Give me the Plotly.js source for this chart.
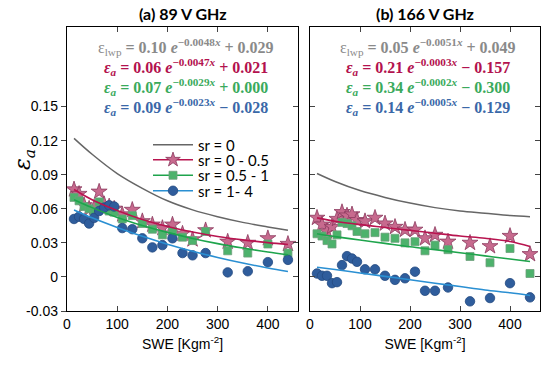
<!DOCTYPE html>
<html>
<head>
<meta charset="utf-8">
<script src="https://cdn.plot.ly/plotly-3.0.1.min.js"></script>
<style>html,body{margin:0;padding:0;background:#fff;}#chart{width:550px;height:365px;}</style>
</head>
<body>
<div id="chart"></div>
<script>
// SWE bin centres (Kg m^-2)
const swe = [14,24,34,44,54,64,74,84,94,110,130,150,170,190,210,230,250,276,320,360,400,440];

// (a) 89 V GHz observed emissivity
const a89_sr005 = [0.077,0.073,0.063,0.060,0.061,0.075,0.064,0.062,0.060,0.055,0.059,0.049,0.046,0.043,0.046,0.038,0.033,0.041,0.031,0.030,0.034,0.029];
const a89_sr051 = [0.070,0.067,0.062,0.060,0.058,0.066,0.062,0.058,0.057,0.051,0.054,0.047,0.042,0.037,0.040,0.035,0.032,0.040,0.023,0.021,0.029,0.021];
const a89_sr14  = [0.051,0.053,0.051,0.047,0.052,0.058,0.061,0.063,0.062,0.043,0.042,0.034,0.026,0.028,0.034,0.021,0.019,0.021,0.004,0.005,0.013,0.015];

// (b) 166 V GHz observed emissivity
const b166_sr005 = [0.052,0.046,0.040,0.044,0.051,0.057,0.054,0.055,0.050,0.049,0.052,0.047,0.044,0.0415,0.0415,0.034,0.037,0.031,0.030,0.027,0.036,0.020];
const b166_sr051 = [0.038,0.036,0.032,0.029,0.037,0.048,0.047,0.045,0.040,0.038,0.039,0.035,0.034,0.030,0.031,0.023,0.028,0.024,0.018,0.0125,0.025,0.003];
const b166_sr14  = [0.003,0.001,0.001,-0.0055,-0.0046,0.0104,0.0183,0.0162,0.0133,0.0067,0.0067,0.001,-0.0026,-0.0012,0.0046,-0.0122,-0.0122,-0.0093,-0.0215,-0.0186,-0.0055,-0.018];

// fitted curves
const fitX = [14,50,100,150,200,250,300,350,400,440];
const a89_fit_sr0   = [0.122,0.108,0.091,0.078,0.067,0.059,0.053,0.048,0.044,0.041];
const a89_fit_sr005 = [0.077,0.068,0.0585,0.0506,0.0444,0.0395,0.0356,0.0326,0.0302,0.0286];
const a89_fit_sr051 = [0.068,0.061,0.0524,0.0453,0.0392,0.0339,0.0293,0.0254,0.0219,0.0195];
const a89_fit_sr14  = [0.059,0.052,0.0435,0.0357,0.0288,0.0226,0.0171,0.0122,0.0079,0.0047];
const b166_fit_sr0   = [0.091,0.084,0.076,0.070,0.065,0.061,0.058,0.056,0.054,0.053];
const b166_fit_sr005 = [0.052,0.049,0.046,0.0435,0.041,0.0385,0.036,0.034,0.0312,0.0268];
const b166_fit_sr051 = [0.038,0.0355,0.0325,0.0295,0.0265,0.024,0.0213,0.0185,0.0158,0.0135];
const b166_fit_sr14  = [0.0085,0.0065,0.0035,0.0005,-0.0025,-0.0055,-0.0085,-0.0115,-0.014,-0.0163];

// legend labels and equation texts
const legendLabels = ["sr = 0","sr = 0 - 0.5","sr = 0.5 - 1","sr = 1- 4"];
const panelTitles = ["(a) 89 V GHz","(b) 166 V GHz"];
const eqA = [["0.10","−0.0048","+ 0.029"],["0.06","−0.0047","+ 0.021"],["0.07","−0.0029","+ 0.000"],["0.09","−0.0023","− 0.028"]];
const eqB = [["0.05","−0.0051","+ 0.049"],["0.21","−0.0003","− 0.157"],["0.34","−0.0002","− 0.300"],["0.14","−0.0005","− 0.129"]];
const yTickVals = [-0.03,0,0.03,0.06,0.09,0.12,0.15];
const yTickText = ["-0.03","0","0.03","0.06","0.09","0.12","0.15"];
const xTickVals = [0,100,200,300,400];

const C = {
  gray:'#666666', grayTxt:'#8a8a8a',
  red:'#b8144f', redFill:'#c76a8e', redEdge:'#8c3a5e', redTxt:'#b3124e',
  green:'#1ea44c', greenFill:'#4db26c', greenEdge:'#6f9f7c', greenTxt:'#3aaa5c',
  blue:'#2a8fd2', blueFill:'#2f5d9c', blueEdge:'#244a80', blueTxt:'#3a68a8'
};

function line(x,y,color,xa,ya,w){
  return {x:x,y:y,mode:'lines',line:{color:color,width:w||1.6,shape:'spline'},showlegend:false,xaxis:xa,yaxis:ya,hoverinfo:'skip'};
}
function pts(x,y,sym,size,fill,edge,xa,ya){
  return {x:x,y:y,mode:'markers',marker:{symbol:sym,size:size,color:fill,line:{color:edge,width:0.8}},showlegend:false,xaxis:xa,yaxis:ya};
}
function leg(name,legendId,color,sym,size,fill,edge){
  const t = {x:[null],y:[null],mode: sym?'lines+markers':'lines',name:name,legend:legendId,line:{color:color,width:1.6},xaxis:'x',yaxis:'y'};
  if(sym) t.marker={symbol:sym,size:size,color:fill,line:{color:edge,width:0.8}};
  return t;
}

const data = [
  line(fitX,a89_fit_sr0,C.gray,'x','y',1.5),
  pts(swe,a89_sr005,'star',12,C.redFill,C.redEdge,'x','y'),
  pts(swe,a89_sr051,'square',8,C.greenFill,C.greenEdge,'x','y'),
  pts(swe,a89_sr14,'circle',9.5,C.blueFill,C.blueEdge,'x','y'),
  line(fitX,a89_fit_sr005,C.red,'x','y'),
  line(fitX,a89_fit_sr051,C.green,'x','y'),
  line(fitX,a89_fit_sr14,C.blue,'x','y'),

  line(fitX,b166_fit_sr0,C.gray,'x2','y2',1.5),
  pts(swe,b166_sr005,'star',12,C.redFill,C.redEdge,'x2','y2'),
  pts(swe,b166_sr051,'square',8,C.greenFill,C.greenEdge,'x2','y2'),
  pts(swe,b166_sr14,'circle',9.5,C.blueFill,C.blueEdge,'x2','y2'),
  line(fitX,b166_fit_sr005,C.red,'x2','y2'),
  line(fitX,b166_fit_sr051,C.green,'x2','y2'),
  line(fitX,b166_fit_sr14,C.blue,'x2','y2'),

  leg(legendLabels[0],'legend',C.gray),
  leg(legendLabels[1],'legend2',C.red,'star',11,C.redFill,C.redEdge),
  leg(legendLabels[2],'legend3',C.green,'square',8,C.greenFill,C.greenEdge),
  leg(legendLabels[3],'legend4',C.blue,'circle',9.5,C.blueFill,C.blueEdge)
];

const tickFont = {family:'Liberation Sans, Arial, sans-serif',size:14,color:'#000'};
const xBase = {range:[0,460],tickvals:xTickVals,ticks:'inside',ticklen:5,mirror:'ticks',showline:true,linecolor:'#000',linewidth:1.2,
  showgrid:false,zeroline:false,tickfont:tickFont,
  title:{text:'SWE [Kgm<sup>-2</sup>]',font:{family:'Liberation Sans, Arial, sans-serif',size:14,color:'#000'},standoff:8}};
const yDomain = [54/365, 338/365];

function legendAt(rowY){
  return {x:148/550,y:1-rowY/365,xanchor:'left',yanchor:'middle',bgcolor:'rgba(0,0,0,0)',borderwidth:0,
    font:{family:'Lato, Open Sans, sans-serif',size:15,color:'#000'},itemwidth:40};
}

const layout = {
  width:550,height:365,margin:{l:0,r:0,t:0,b:0},
  paper_bgcolor:'#fff',plot_bgcolor:'#fff',
  showlegend:true,
  legend:legendAt(145),
  legend2:legendAt(160),
  legend3:legendAt(175.5),
  legend4:legendAt(191),
  xaxis:Object.assign({},xBase,{domain:[67/550,298/550],anchor:'y'}),
  xaxis2:Object.assign({},xBase,{domain:[310/550,540/550],anchor:'y2'}),
  yaxis:{domain:yDomain,range:[-0.03,0.22],tickvals:yTickVals,ticktext:yTickText,ticks:'outside',ticklen:5,
    showline:true,mirror:true,linecolor:'#000',linewidth:1.2,showgrid:false,zeroline:false,tickfont:tickFont,anchor:'x'},
  yaxis3:{overlaying:'y',side:'right',anchor:'x',range:[-0.03,0.22],tickvals:yTickVals,ticks:'inside',ticklen:5,
    showticklabels:false,showline:false,showgrid:false,zeroline:false},
  yaxis2:{domain:yDomain,range:[-0.03,0.22],tickvals:yTickVals,ticks:'inside',ticklen:5,mirror:'ticks',
    showline:true,linecolor:'#000',linewidth:1.2,showgrid:false,zeroline:false,showticklabels:false,anchor:'x2'},
  annotations:[]
};
// dummy trace to activate yaxis3
data.push({x:[null],y:[null],xaxis:'x',yaxis:'y3',showlegend:false,mode:'markers'});

// y-axis title
layout.annotations.push({xref:'paper',yref:'paper',x:24/550,y:1-160/365,text:'<i>ε<sub>a</sub></i>',textangle:-90,showarrow:false,
  xanchor:'center',yanchor:'middle',font:{family:'DejaVu Serif, serif',size:22,color:'#000'}});

const titleFont = {family:'Lato, Open Sans, sans-serif',size:16,color:'#000',weight:'bold'};
[[182.5/550,panelTitles[0]],[425/550,panelTitles[1]]].forEach(function(p){
  layout.annotations.push({xref:'paper',yref:'paper',x:p[0],y:1-14/365,text:'<b>'+p[1]+'</b>',showarrow:false,
    font:titleFont,xanchor:'center',yanchor:'middle'});
});

const eqColors = [C.grayTxt,C.redTxt,C.greenTxt,C.blueTxt];
const eqRows = [47,67,87,107];
function eqText(i,c){
  const lhs = i===0 ? '<span style="font-weight:normal">ε<sub>lwp</sub></span>' : '<i>ε<sub>a</sub></i>';
  return '<b>'+lhs+' = '+c[0]+' <i>e</i><sup>'+c[1]+'<i>x</i></sup> '+c[2]+'</b>';
}
[[186/550,eqA],[427.5/550,eqB]].forEach(function(p){
  p[1].forEach(function(c,i){
    layout.annotations.push({xref:'paper',yref:'paper',x:p[0],y:1-eqRows[i]/365,text:eqText(i,c),showarrow:false,
      xanchor:'center',yanchor:'middle',font:{family:'Liberation Serif, DejaVu Serif, serif',size:16,color:eqColors[i]}});
  });
});

Plotly.newPlot('chart',data,layout,{staticPlot:true,displayModeBar:false});
</script>
</body>
</html>
